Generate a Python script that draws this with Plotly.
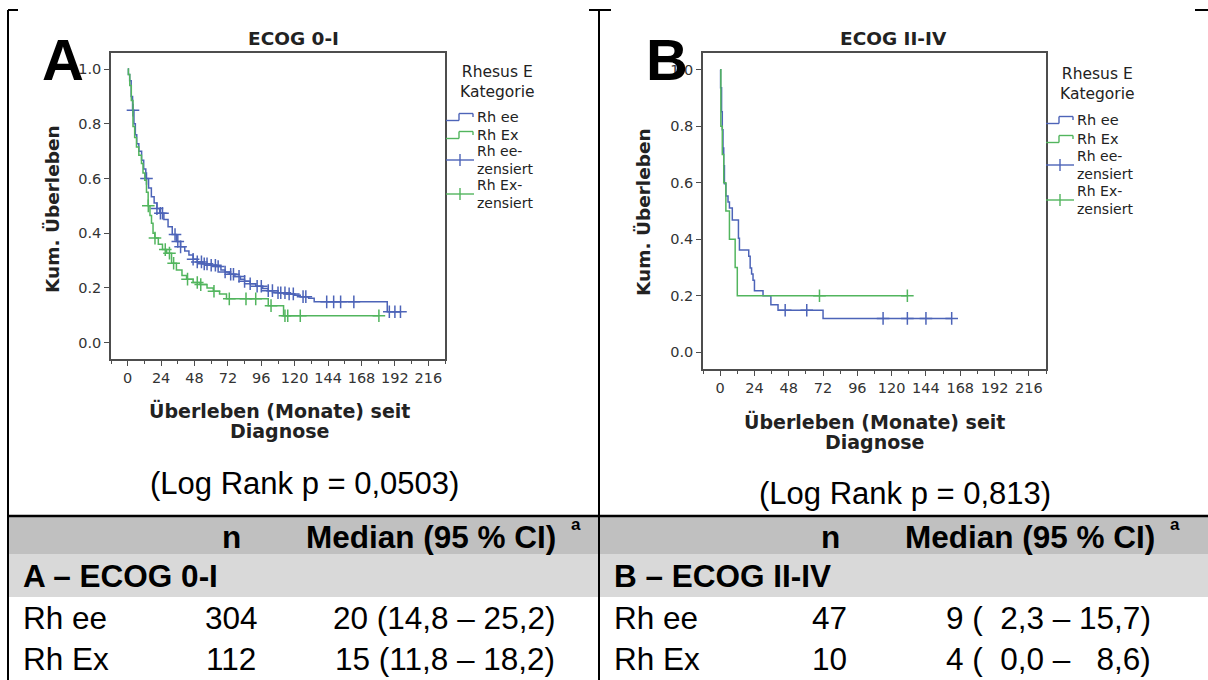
import plotly.graph_objects as go

# ---------------- data ----------------
# Panel A (ECOG 0-I): Kaplan-Meier step points (months, cumulative survival)
a_ee_months = [0, 0.5, 1.4, 2.5, 3.5, 4.5, 5.5, 6.5, 8, 10, 11.5, 13, 15, 17, 19, 21, 23,
               26, 29, 32, 35, 38, 41, 44, 47, 50, 54, 60, 64, 67, 70, 73, 77, 81, 84,
               88, 92, 97, 101, 108, 114, 120, 124, 130, 134, 186.5, 196]
a_ee_surv = [1.0, 0.98, 0.957, 0.9, 0.85, 0.8, 0.76, 0.727, 0.7, 0.667, 0.635, 0.6, 0.565,
             0.533, 0.51, 0.49, 0.473, 0.45, 0.424, 0.395, 0.37, 0.35, 0.335, 0.32, 0.305,
             0.295, 0.288, 0.283, 0.278, 0.265, 0.258, 0.25, 0.242, 0.232, 0.224, 0.215,
             0.206, 0.198, 0.19, 0.182, 0.178, 0.173, 0.168, 0.162, 0.149, 0.113, 0.113]
a_ee_censored = [3.8, 13.5, 21, 23.5, 25, 34, 36, 38, 47, 50, 53, 55, 57, 60, 63, 65, 70,
                 74, 76, 80, 84, 88, 93, 96, 101, 104, 108, 110, 113, 116, 119, 126, 128,
                 143, 148, 153, 162.5, 188, 192, 196]

a_ex_months = [0, 0.5, 1.5, 2.6, 3.8, 5, 6.3, 8, 9.9, 11, 12.3, 13.5, 14.7, 16, 17.1, 18.2,
               19.5, 22, 25, 28, 31.5, 35, 39, 42.3, 47, 52, 57, 61.5, 66, 71, 101, 112, 180.5]
a_ex_surv = [1.0, 0.98, 0.94, 0.885, 0.79, 0.75, 0.715, 0.685, 0.655, 0.62, 0.594, 0.55,
             0.5, 0.465, 0.436, 0.4, 0.382, 0.36, 0.34, 0.327, 0.29, 0.265, 0.245, 0.232,
             0.22, 0.212, 0.2, 0.188, 0.178, 0.16, 0.135, 0.098, 0.098]
a_ex_censored = [14.8, 19.6, 27, 30, 33, 43, 50, 52.5, 62, 73, 85, 92, 103, 113, 115, 124, 180.5]

# Panel B (ECOG II-IV)
b_ee_months = [0, 0.3, 1.0, 1.5, 2.0, 2.5, 3.0, 4.0, 5.5, 6.5, 8.5, 12.8, 13.5, 20.0, 21.0,
               22.0, 23.0, 24.0, 30.0, 35.5, 40.5, 72.0, 162]
b_ee_surv = [1.0, 0.936, 0.851, 0.787, 0.723, 0.660, 0.596, 0.553, 0.532, 0.511, 0.468,
             0.404, 0.362, 0.340, 0.298, 0.277, 0.255, 0.218, 0.2, 0.168, 0.149, 0.12, 0.12]
b_ee_censored = [45.5, 60.6, 114, 131, 144, 162]

b_ex_months = [0, 0.5, 1.5, 2.5, 4.0, 6.5, 10.5, 12.0, 131]
b_ex_surv = [1.0, 0.8, 0.7, 0.6, 0.5, 0.4, 0.3, 0.2, 0.2]
b_ex_censored = [69.5, 131]

x_ticks = [0, 24, 48, 72, 96, 120, 144, 168, 192, 216]
y_ticks = [0.0, 0.2, 0.4, 0.6, 0.8, 1.0]
y_ticklabels = ["0.0", "0.2", "0.4", "0.6", "0.8", "1.0"]

table_header = ["n", "Median (95 % CI)"]
table_left_title = "A – ECOG 0-I"
table_right_title = "B – ECOG II-IV"
groups = ["Rh ee", "Rh Ex"]
left_n = ["304", "112"]
left_median = ["20 (14,8 – 25,2)", "15 (11,8 – 18,2)"]
right_n = ["47", "10"]
right_median = ["9 (\u00a0\u00a02,3 – 15,7)", "4 (\u00a0\u00a00,0 –\u00a0\u00a0\u00a08,6)"]

# ---------------- styling ----------------
W, H = 1208, 680
BLUE = "#4d64b8"
GREEN = "#52b55e"
AXC = "#4d4d4d"
CHART_FONT = "DejaVu Sans"
TABLE_FONT = "Liberation Sans"


def px(x):
    return x / W


def py(y):
    return 1 - y / H


def surv_at(months, surv, t):
    val = surv[0]
    for m, s in zip(months, surv):
        if m <= t:
            val = s
    return val


fig = go.Figure()


def add_km(months, surv, censored, color, xa, ya):
    fig.add_trace(go.Scatter(
        x=months, y=surv, mode="lines", xaxis=xa, yaxis=ya,
        line=dict(shape="hv", color=color, width=1.5),
        showlegend=False, hoverinfo="skip"))
    fig.add_trace(go.Scatter(
        x=censored, y=[surv_at(months, surv, t) for t in censored],
        mode="markers", xaxis=xa, yaxis=ya,
        marker=dict(symbol="cross-thin", size=9, line=dict(color=color, width=1.5)),
        showlegend=False, hoverinfo="skip"))


add_km(a_ee_months, a_ee_surv, a_ee_censored, BLUE, "x", "y")
add_km(a_ex_months, a_ex_surv, a_ex_censored, GREEN, "x", "y")
add_km(b_ee_months, b_ee_surv, b_ee_censored, BLUE, "x2", "y2")
add_km(b_ex_months, b_ex_surv, b_ex_censored, GREEN, "x2", "y2")

common = dict(showline=True, linecolor=AXC, linewidth=1.5, mirror=True, ticks="outside",
              ticklen=5, tickcolor=AXC, tickwidth=1.3, showgrid=False, zeroline=False,
              fixedrange=True, tickfont=dict(family=CHART_FONT, size=14.5, color="#333333"))
xcommon = dict(common, range=[-12, 228], tickvals=x_ticks,
               minor=dict(dtick=12, tick0=0, ticks="outside", ticklen=3, tickcolor=AXC,
                          tickwidth=1.2, showgrid=False))
ycommon = dict(common, range=[-0.06, 1.06], tickvals=y_ticks, ticktext=y_ticklabels)

fig.update_layout(
    width=W, height=H, autosize=False,
    margin=dict(l=0, r=0, t=0, b=0),
    paper_bgcolor="white", plot_bgcolor="white",
    xaxis=dict(xcommon, domain=[px(111), px(445)], anchor="y"),
    yaxis=dict(ycommon, domain=[py(359), py(52.7)], anchor="x"),
    xaxis2=dict(xcommon, domain=[px(703), px(1046)], anchor="y2"),
    yaxis2=dict(ycommon, domain=[py(369.3), py(52.7)], anchor="x2"),
)

shapes = []
ann = []


def text(x, y, s, size, family=CHART_FONT, bold=False, color="#222222",
         xanchor="center", angle=0, align="center"):
    ann.append(dict(x=px(x), y=py(y), xref="paper", yref="paper", showarrow=False,
                    text=f"<b>{s}</b>" if bold else s, xanchor=xanchor, yanchor="middle",
                    textangle=angle, align=align,
                    font=dict(family=family, size=size, color=color)))


def seg(x0, y0, x1, y1, color, width):
    shapes.append(dict(type="line", xref="paper", yref="paper", x0=px(x0), y0=py(y0),
                       x1=px(x1), y1=py(y1), line=dict(color=color, width=width)))


def rect(x0, y0, x1, y1, fill):
    shapes.append(dict(type="rect", xref="paper", yref="paper", x0=px(x0), y0=py(y0),
                       x1=px(x1), y1=py(y1), fillcolor=fill, line=dict(width=0),
                       layer="below"))


def legend(x0, yhead, yee, yex, ycee, ycex):
    text(x0 + 51, yhead, "Rhesus E<br>Kategorie", 15.5)
    tx = x0 + 29
    for color, yy in ((BLUE, yee), (GREEN, yex)):
        yb, yt = yy + 3.5, yy - 3.5
        xm, x1 = x0 + 13, x0 + 27
        seg(x0, yb, xm, yb, color, 1.4)
        seg(xm, yb, xm, yt, color, 1.4)
        seg(xm, yt, x1, yt, color, 1.4)
        seg(x1, yt, x1, yy, color, 1.4)
    text(tx, yee, "Rh ee", 14.5, xanchor="left")
    text(tx, yex, "Rh Ex", 14.5, xanchor="left")
    for color, mid, label in ((BLUE, ycee, "Rh ee-"), (GREEN, ycex, "Rh Ex-")):
        seg(x0, mid, x0 + 28, mid, color, 1.4)
        seg(x0 + 14, mid - 6, x0 + 14, mid + 6, color, 1.4)
        text(tx, mid, f"{label}<br>zensiert", 14, xanchor="left", align="left")


# ---- panel A texts ----
text(293, 38, "ECOG 0-I", 18.5, bold=True)
text(52, 209, "Kum. Überleben", 18.5, bold=True, angle=-90)
text(279, 410, "Überleben (Monate) seit", 19, bold=True)
text(279, 431, "Diagnose", 19, bold=True)
legend(446, 82, 117, 135, 160, 194)
text(304, 483, "(Log Rank p = 0,0503)", 31, family=TABLE_FONT, color="#000000")
text(63, 59, "A", 58, family=TABLE_FONT, bold=True, color="#000000")

# ---- panel B texts ----
text(893, 38, "ECOG II-IV", 18.5, bold=True)
text(643, 212, "Kum. Überleben", 18.5, bold=True, angle=-90)
text(875, 421, "Überleben (Monate) seit", 19, bold=True)
text(875, 442, "Diagnose", 19, bold=True)
legend(1046, 84, 120, 139, 165, 200)
text(905, 493, "(Log Rank p = 0,813)", 31, family=TABLE_FONT, color="#000000")
text(667, 59, "B", 58, family=TABLE_FONT, bold=True, color="#000000")

# ---- table ----
rect(8, 517, 1208, 554, "#c0c0c0")
rect(8, 554, 1208, 597, "#d9d9d9")
seg(8, 10, 8, 680, "#000000", 2)
seg(599, 10, 599, 680, "#000000", 2)
seg(8, 10, 18, 10, "#000000", 2)
seg(589, 10, 611, 10, "#000000", 2)
seg(1195, 10, 1208, 10, "#000000", 2)
seg(8, 516, 1208, 516, "#000000", 2.5)

for off in (0, 599):
    text(231 + off, 537, table_header[0], 31.5, family=TABLE_FONT, bold=True, color="#000")
    text(558 + off, 537, table_header[1], 31.5, family=TABLE_FONT, bold=True, color="#000",
         xanchor="right")
    text(569 + off, 524, "a", 17, family=TABLE_FONT, bold=True, color="#000",
         xanchor="left")

text(21, 576, table_left_title, 31.5, family=TABLE_FONT, bold=True, color="#000",
     xanchor="left")
text(612, 576, table_right_title, 31.5, family=TABLE_FONT, bold=True, color="#000",
     xanchor="left")

row_y = [618, 659]
for i, g in enumerate(groups):
    text(21, row_y[i], g, 31.5, family=TABLE_FONT, color="#000", xanchor="left")
    text(231, row_y[i], left_n[i], 31.5, family=TABLE_FONT, color="#000")
    text(557, row_y[i], left_median[i], 31.5, family=TABLE_FONT, color="#000", xanchor="right")
    text(612, row_y[i], g, 31.5, family=TABLE_FONT, color="#000", xanchor="left")
    text(829, row_y[i], right_n[i], 31.5, family=TABLE_FONT, color="#000")
    text(1153, row_y[i], right_median[i], 31.5, family=TABLE_FONT, color="#000",
         xanchor="right")

fig.update_layout(shapes=shapes, annotations=ann)
fig.write_html("out.html")
